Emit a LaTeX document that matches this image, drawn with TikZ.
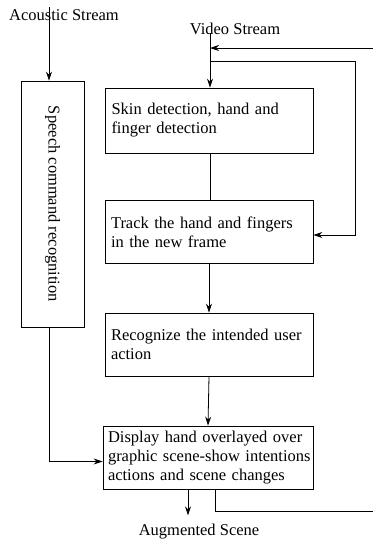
\documentclass[tikz,border=0pt]{standalone}
\usepackage{fontspec}
\setmainfont{Liberation Serif}
\usetikzlibrary{positioning,arrows.meta}

\begin{document}
\begin{tikzpicture}[x=1pt,y=-1pt,line width=0.8pt,font=\fontsize{16.5}{19}\selectfont,stagebox/.style={draw, align=left, rectangle, inner xsep=6pt, text width=196pt, minimum height=63pt},flow/.style={-{Stealth[length=9pt,width=6pt,inset=3pt]}}]
\useasboundingbox (0,0) rectangle (373,541);
\node(aco) at (64,15) {Acoustic Stream};
\node(vid) at (235,29) {Video Stream};
\node[draw, rotate=-90, minimum width=246pt, minimum height=63pt](speech) at (52.5,204) {Speech command recognition};
\node[stagebox, minimum height=65pt](skin) at (209.5,120.5) {Skin detection, hand and\\finger detection};
\node[stagebox](track) at (209,232) {Track the hand and fingers\\in the new frame};
\node[stagebox](recog) at (209,344.5) {Recognize the intended user\\action};
\node[stagebox, text width=200pt, inner xsep=5pt](display) at (208,457.5) {Display hand overlayed over\\\mbox{graphic scene-show intentions}\\actions and scene changes};
\node(aug) at (199,532) {Augmented Scene};
\coordinate (acoin) at (49,7);
\coordinate (vidin) at (210,33);
\coordinate (branch) at (210,61);
\coordinate (fbin) at (373,48);
\coordinate (fbout) at (373,511);
% streams into the boxes
\draw[flow] (acoin) -- (acoin |- speech.west);
\draw[flow] (vidin) -- (vidin |- skin.north);
\draw[flow] (fbin) -- (fbin -| vidin);
\draw[flow] (branch) -- (355,61) |- ([yshift=-3pt]track.east);
% main chain
\draw (skin.south -| vidin) -- (track.north -| vidin);
\draw[flow] (track.south) -- (recog.north);
\draw[flow] (recog.south) -- (display.north);
\draw[flow] (speech.east -| acoin) |- ([yshift=-4pt]display.west);
\draw[flow] ([xshift=-20pt]display.south) -- ++(0,26);
\draw ([xshift=7pt]display.south) |- (fbout);
\end{tikzpicture}
\end{document}
